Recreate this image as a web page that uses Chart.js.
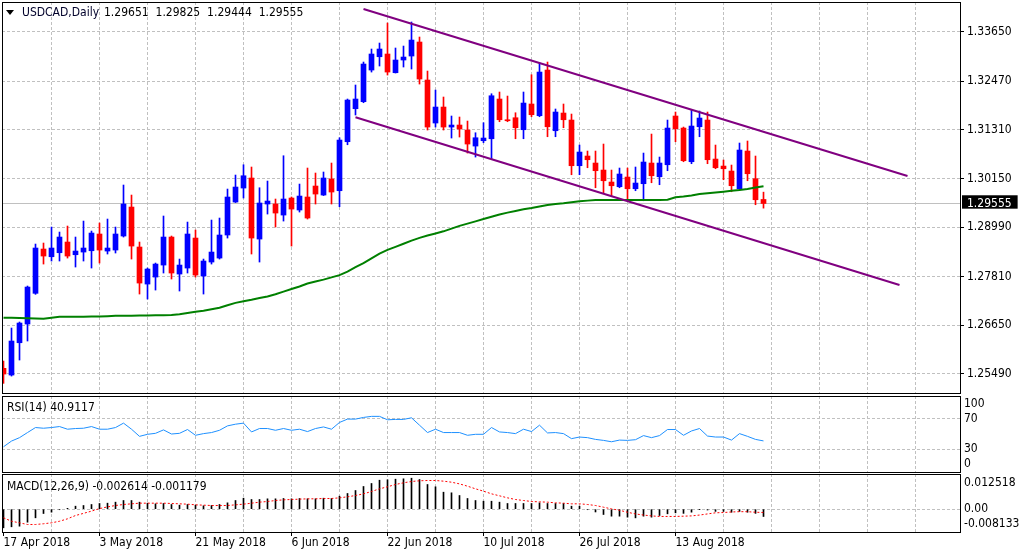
<!DOCTYPE html>
<html>
<head>
<meta charset="utf-8">
<script src="https://cdn.jsdelivr.net/npm/chart.js"></script>
<style>
html,body{margin:0;padding:0;background:#fff;}
#wrap{position:relative;width:1020px;height:556px;overflow:hidden;background:#fff;
  font-family:'DejaVu Sans Condensed','DejaVu Sans',sans-serif;font-size:12px;}
canvas{position:absolute;left:0;}
.lbl{position:absolute;white-space:pre;line-height:14px;color:#000;}
#tri{position:absolute;left:6px;top:10px;width:0;height:0;border-left:4px solid transparent;border-right:4px solid transparent;border-top:5px solid #000;}
</style>
</head>
<body>
<div id="wrap">
  <canvas id="cMain" width="1020" height="395" style="top:0px"></canvas>
  <canvas id="cRsi" width="1020" height="80" style="top:394px"></canvas>
  <canvas id="cMacd" width="1020" height="84" style="top:472px"></canvas>
  <div id="tri"></div>
  <div class="lbl" id="tSym" style="left:22px;top:5px;color:#00002a"></div>
  <div class="lbl" id="tOhlc" style="left:104px;top:5px;word-spacing:3.5px"></div>
  <div class="lbl" id="tRsi" style="left:7px;top:400px"></div>
  <div class="lbl" id="tMacd" style="left:7px;top:479px"></div>
</div>
<script>
// ---------------- DATA ----------------
const symbol = 'USDCAD,Daily';
const dateLabels = ['17 Apr 2018','3 May 2018','21 May 2018','6 Jun 2018','22 Jun 2018','10 Jul 2018','26 Jul 2018','13 Aug 2018'];

const opens = [
1.25625,1.25465,1.26235,1.26681,1.27413,1.28469,1.28285,1.28381,1.28636,1.28333,
1.28397,1.28428,1.28827,1.28421,1.28445,1.28779,1.29470,1.28517,1.27634,1.27801,
1.28087,1.28755,1.27873,1.28016,1.28731,1.27825,1.28159,1.28254,1.28803,1.29589,
1.29923,1.30162,1.28707,1.29542,1.29542,1.29279,1.29685,1.29399,1.29709,1.29971,
1.29756,1.30138,1.29859,1.31027,1.31814,1.31981,1.32736,1.33053,1.33118,1.32672,
1.32975,1.33070,1.33404,1.32498,1.31473,1.31854,1.31377,1.31425,1.31306,1.30924,
1.31051,1.31098,1.32045,1.31551,1.31599,1.31313,1.31926,1.31647,1.32736,1.31289,
1.31711,1.31544,1.30455,1.30686,1.30519,1.30352,1.30066,1.29954,1.30185,1.29906,
1.30026,1.30519,1.30192,1.30478,1.31640,1.31353,1.30550,1.31384,1.31544,1.30614,
1.30447,1.30328,1.29906,1.30805,1.30145,1.29651];
const highs = [
1.25799,1.26586,1.26729,1.27587,1.28588,1.28612,1.28993,1.28874,1.29017,1.28755,
1.29136,1.28898,1.29089,1.29184,1.28993,1.29995,1.29756,1.28636,1.28016,1.28135,
1.29256,1.28779,1.28230,1.29112,1.28922,1.28230,1.29160,1.29208,1.29899,1.30233,
1.30478,1.30424,1.29930,1.30090,1.29661,1.30693,1.29709,1.30018,1.30400,1.30281,
1.30305,1.30519,1.31122,1.32045,1.32379,1.32927,1.33237,1.33380,1.33857,1.33261,
1.33308,1.33881,1.33523,1.32712,1.32259,1.32093,1.31640,1.31616,1.31520,1.31241,
1.31480,1.32171,1.32212,1.32116,1.31718,1.32212,1.32624,1.32903,1.32927,1.31807,
1.31926,1.31687,1.30948,1.30805,1.30805,1.30972,1.30352,1.30400,1.30400,1.30424,
1.30757,1.31210,1.30662,1.31544,1.31735,1.31377,1.31783,1.31759,1.31735,1.30948,
1.30591,1.30471,1.30996,1.31044,1.30686,1.29825];
const lows = [
1.25267,1.25441,1.25823,1.26276,1.27389,1.28111,1.28183,1.28183,1.28254,1.28040,
1.28183,1.28016,1.28135,1.28350,1.28374,1.28755,1.28230,1.27396,1.27277,1.27491,
1.27897,1.27754,1.27468,1.27897,1.27801,1.27396,1.28111,1.28230,1.28731,1.29577,
1.29685,1.28350,1.28159,1.29303,1.28993,1.29136,1.28540,1.29351,1.29184,1.29542,
1.29744,1.29542,1.29477,1.30955,1.31664,1.31957,1.32688,1.32832,1.32617,1.32665,
1.32808,1.32760,1.32402,1.31306,1.31377,1.31306,1.31115,1.31139,1.30757,1.30662,
1.31003,1.30622,1.31504,1.31504,1.31098,1.31098,1.31623,1.31623,1.31146,1.31146,
1.31361,1.30240,1.30240,1.30407,1.29930,1.29811,1.29739,1.29930,1.29644,1.29859,
1.29620,1.30049,1.30002,1.30336,1.31027,1.30550,1.30503,1.31146,1.30503,1.30383,
1.30121,1.29835,1.29883,1.30097,1.29525,1.29444];
const closes = [
1.25489,1.26276,1.26705,1.27563,1.28493,1.28302,1.28493,1.28755,1.28302,1.28421,
1.28493,1.28850,1.28445,1.28493,1.28827,1.29542,1.28540,1.27658,1.27992,1.28111,
1.28755,1.27897,1.28087,1.28827,1.27849,1.28183,1.28397,1.28803,1.29709,1.29947,
1.30216,1.28731,1.29566,1.29613,1.29327,1.29661,1.29422,1.29732,1.29208,1.29780,
1.30162,1.29828,1.31067,1.32021,1.32045,1.32879,1.33118,1.33237,1.32688,1.32975,
1.33046,1.33451,1.32522,1.31377,1.31854,1.31377,1.31425,1.31330,1.30972,1.31122,
1.31115,1.32123,1.31551,1.31527,1.31361,1.31949,1.31671,1.32688,1.31384,1.31735,
1.31551,1.30455,1.30781,1.30598,1.30336,1.30097,1.29978,1.30257,1.29906,1.30042,
1.30543,1.30216,1.30519,1.31353,1.31337,1.30574,1.31401,1.31592,1.30598,1.30407,
1.30383,1.29978,1.30829,1.30264,1.29644,1.29555];

const sma = [
1.26831,1.26829,1.26824,1.26819,1.26814,1.26807,1.26829,1.26853,1.26855,1.26857,
1.26857,1.26860,1.26862,1.26867,1.26876,1.26879,1.26881,1.26884,1.26886,1.26888,
1.26891,1.26895,1.26915,1.26943,1.26972,1.27000,1.27034,1.27069,1.27129,1.27186,
1.27224,1.27260,1.27301,1.27336,1.27391,1.27453,1.27515,1.27577,1.27646,1.27694,
1.27739,1.27794,1.27847,1.27932,1.28035,1.28133,1.28247,1.28362,1.28450,1.28521,
1.28595,1.28669,1.28736,1.28791,1.28841,1.28891,1.28955,1.29022,1.29074,1.29129,
1.29184,1.29239,1.29294,1.29337,1.29377,1.29415,1.29446,1.29482,1.29520,1.29544,
1.29561,1.29585,1.29606,1.29623,1.29635,1.29637,1.29637,1.29637,1.29637,1.29637,
1.29637,1.29637,1.29637,1.29644,1.29701,1.29720,1.29744,1.29780,1.29799,1.29818,
1.29837,1.29856,1.29875,1.29899,1.29935,1.29964];

const channelUpper = [{bar:45, price:1.34190}, {bar:113, price:1.30209}];
const channelLower = [{bar:44, price:1.31609}, {bar:112, price:1.27611}];

const rsi = [
33.2,40.7,45.2,51.9,58.5,57.6,58.5,59.8,56.3,57.2,
57.6,59.8,56.3,56.3,58.5,64.3,56.3,46.9,49.6,50.9,
55.4,50.0,50.9,55.9,48.3,50.5,51.9,54.9,60.7,62.9,
64.3,52.7,57.2,57.2,54.9,57.2,54.9,56.3,53.2,57.2,
59.3,56.3,65.2,69.6,69.6,71.8,73.2,73.2,68.7,69.2,
69.2,71.3,61.6,51.9,56.3,51.9,51.9,51.9,48.3,49.6,
49.6,58.5,52.7,51.9,50.5,56.3,53.2,61.6,51.4,51.9,
50.5,43.9,46.0,45.2,42.9,41.6,39.8,42.0,41.6,42.5,
47.9,45.2,47.9,55.9,55.9,48.3,54.0,57.2,47.3,46.0,
46.0,42.0,50.5,46.9,42.9,40.9117];

const macdHist = [
-0.00664,-0.00628,-0.00606,-0.00464,-0.00308,-0.00155,-0.00107,-0.0002,0.0003,0.00106,
0.0013,0.00166,0.00202,0.00213,0.00249,0.00308,0.00308,0.00249,0.00213,0.0019,
0.00202,0.00166,0.00142,0.00166,0.00142,0.0012,0.0013,0.00166,0.00225,0.00308,
0.0039,0.00344,0.00344,0.00368,0.00368,0.0038,0.00368,0.0038,0.00368,0.00368,
0.0039,0.0038,0.00462,0.00558,0.00664,0.00807,0.00914,0.01031,0.01045,0.01067,
0.01081,0.01102,0.01056,0.00878,0.00796,0.00604,0.00582,0.00486,0.0038,0.00308,
0.00283,0.00283,0.00249,0.00202,0.00202,0.00202,0.00202,0.00225,0.00202,0.00202,
0.00202,0.00106,0.00106,-0.0002,-0.001,-0.0019,-0.0025,-0.0025,-0.00285,-0.0031,
-0.0025,-0.00285,-0.00226,-0.00166,-0.0013,-0.0015,-0.00107,-0.0001,-0.0003,-0.0008,
-0.0008,-0.0011,-0.0008,-0.0011,-0.0015,-0.002614];
const macdSignal = [
-0.00308,-0.0043,-0.00486,-0.00546,-0.00546,-0.0052,-0.00486,-0.0043,-0.00344,-0.00226,
-0.0015,-0.0007,0.0002,0.0008,0.0013,0.00166,0.0019,0.00213,0.00213,0.00213,
0.00213,0.00202,0.0019,0.00178,0.00154,0.00142,0.0013,0.0013,0.0013,0.00154,
0.00178,0.00213,0.00249,0.00273,0.00308,0.00332,0.00344,0.00356,0.00368,0.00368,
0.0038,0.0038,0.00403,0.0044,0.00486,0.00546,0.00629,0.00724,0.00796,0.00878,
0.00938,0.00985,0.0101,0.0102,0.0102,0.00997,0.0096,0.009,0.00818,0.00724,
0.0064,0.00546,0.00475,0.00403,0.00344,0.00308,0.00273,0.0026,0.00249,0.00225,
0.00213,0.0019,0.0019,0.00166,0.0013,0.0007,0.0001,-0.0004,-0.0011,-0.0017,
-0.0021,-0.0024,-0.0026,-0.0026,-0.0026,-0.0025,-0.0024,-0.0021,-0.0017,-0.0013,
-0.0012,-0.001,-0.0009,-0.0009,-0.0011,-0.001179];

const priceTicks = [1.25490,1.26650,1.27810,1.28990,1.30150,1.31310,1.32470,1.33650];
const rsiTicks = [0,30,70,100];
const macdTicks = [-0.008133,0,0.012518];

// ---------------- CONFIG ----------------
const PRICE_MIN = 1.25037, PRICE_MAX = 1.34358;
const X_MIN = -0.1875, X_MAX = 119.5625;
const Y_AXIS_W = 60;
const GRID_EVERY = 6, LABEL_EVERY = 12;
const GRID = '#c0c0c0', DASH = [3, 2], CLEAR = 'rgba(0,0,0,0)';
const UP = '#0000ff', DOWN = '#ff0000';
const FONT = "'DejaVu Sans Condensed','DejaVu Sans',sans-serif";

const lastBar = closes.length - 1;
const lastClose = closes[lastBar];

Chart.defaults.font.family = FONT;
Chart.defaults.font.size = 12;
Chart.defaults.color = '#000';
Chart.defaults.animation = false;
Chart.defaults.events = [];
Chart.defaults.plugins.legend.display = false;
Chart.defaults.plugins.tooltip.enabled = false;

const xGridValues = [];
for (let v = 0; v <= X_MAX; v += GRID_EVERY) xGridValues.push(v);
const isLabelBar = v => v % LABEL_EVERY === 0 && v <= lastBar;

const framePlugin = {
  id: 'frame',
  afterDraw(chart) {
    const {ctx, chartArea: a} = chart;
    ctx.save();
    ctx.strokeStyle = '#000';
    ctx.lineWidth = 1;
    ctx.strokeRect(a.left + 0.5, a.top + 0.5, a.right - a.left, a.bottom - a.top);
    ctx.restore();
  }
};

function xAxis(showLabels) {
  return {
    type: 'linear', min: X_MIN, max: X_MAX, offset: false,
    afterBuildTicks: s => { s.ticks = xGridValues.map(v => ({value: v})); },
    afterFit: s => { s.height = showLabels ? 24 : 0; s.paddingLeft = 0; s.paddingRight = 0; },
    ticks: {
      display: showLabels, autoSkip: false, maxRotation: 0, minRotation: 0, align: 'start', padding: 0,
      callback: v => isLabelBar(v) ? dateLabels[v / LABEL_EVERY] : ''
    },
    grid: {
      offset: false,
      color: c => (c.tick && c.tick.value === 0) ? CLEAR : GRID,
      drawTicks: showLabels, tickLength: 4,
      tickColor: c => (c.tick && isLabelBar(c.tick.value)) ? '#000' : CLEAR
    },
    border: {display: false, dash: DASH}
  };
}

function edgeLabel(text, i, n) {
  if (i === n - 1) return ['', text];
  if (i === 0) return [text, ''];
  return text;
}

const isLast = c => !!(c.tick && c.tick.value === lastClose);
const candleColors = opens.map((o, i) => closes[i] >= o ? UP : DOWN);

// ---------------- MAIN ----------------
new Chart(document.getElementById('cMain'), {
  type: 'bar',
  data: {
    datasets: [
      {type: 'line', label: 'Channel top', data: channelUpper.map(p => ({x: p.bar, y: p.price})),
        borderColor: '#800080', borderWidth: 2, pointRadius: 0, order: 0},
      {type: 'line', label: 'Channel bottom', data: channelLower.map(p => ({x: p.bar, y: p.price})),
        borderColor: '#800080', borderWidth: 2, pointRadius: 0, order: 0},
      {type: 'line', label: 'SMA', data: sma.map((v, i) => ({x: i, y: v})),
        borderColor: '#008000', borderWidth: 2, pointRadius: 0, order: 1},
      {type: 'bar', label: 'Body', data: opens.map((o, i) => ({x: i, y: [o, closes[i]]})),
        backgroundColor: candleColors, borderWidth: 0, barThickness: 5, grouped: false, minBarLength: 1, order: 2},
      {type: 'bar', label: 'Wick', data: lows.map((l, i) => ({x: i, y: [l, highs[i]]})),
        backgroundColor: candleColors, borderWidth: 0, barThickness: 1, grouped: false, order: 3}
    ]
  },
  options: {
    responsive: false, maintainAspectRatio: false,
    layout: {padding: {left: 2, top: 2, right: 0, bottom: 2}},
    scales: {
      x: xAxis(false),
      y: {
        position: 'right', min: PRICE_MIN, max: PRICE_MAX, beginAtZero: false,
        afterBuildTicks: s => { s.ticks = priceTicks.concat([lastClose]).map(v => ({value: v})); },
        afterFit: s => { s.width = Y_AXIS_W; s.paddingTop = 0; s.paddingBottom = 0; },
        ticks: {
          autoSkip: false, padding: 3,
          callback: v => v.toFixed(5),
          color: c => isLast(c) ? '#fff' : '#000',
          showLabelBackdrop: c => isLast(c),
          backdropColor: '#000',
          backdropPadding: {top: 1, bottom: -2, left: 5, right: 6}
        },
        grid: {color: GRID, tickLength: 4, tickColor: c => isLast(c) ? CLEAR : '#000'},
        border: {display: false, dash: c => isLast(c) ? [] : DASH}
      }
    }
  },
  plugins: [framePlugin]
});

// ---------------- RSI ----------------
new Chart(document.getElementById('cRsi'), {
  type: 'line',
  data: {datasets: [{label: 'RSI(14)', data: rsi.map((v, i) => ({x: i, y: v})),
    borderColor: '#1e90ff', borderWidth: 1, pointRadius: 0}]},
  options: {
    responsive: false, maintainAspectRatio: false,
    layout: {padding: {left: 2, top: 2, right: 0, bottom: 2}},
    scales: {
      x: xAxis(false),
      y: {
        position: 'right', min: rsiTicks[0], max: rsiTicks[rsiTicks.length - 1], beginAtZero: false,
        afterBuildTicks: s => { s.ticks = rsiTicks.map(v => ({value: v})); },
        afterFit: s => { s.width = Y_AXIS_W; s.paddingTop = 0; s.paddingBottom = 0; },
        ticks: {autoSkip: false, padding: 4, font: {lineHeight: 1.3},
          callback: (v, i, t) => edgeLabel(String(v), i, t.length)},
        grid: {drawTicks: false,
          color: c => (c.tick && (c.index === 0 || c.index === rsiTicks.length - 1)) ? CLEAR : GRID},
        border: {display: false, dash: DASH}
      }
    }
  },
  plugins: [framePlugin]
});

// ---------------- MACD ----------------
new Chart(document.getElementById('cMacd'), {
  type: 'bar',
  data: {datasets: [
    {type: 'line', label: 'Signal', data: macdSignal.map((v, i) => ({x: i, y: v})),
      borderColor: '#ff0000', borderWidth: 1, borderDash: [2, 2], pointRadius: 0, order: 0},
    {type: 'bar', label: 'MACD', data: macdHist.map((v, i) => ({x: i, y: v})),
      backgroundColor: '#000', borderWidth: 0, barThickness: 1, grouped: false, order: 1}
  ]},
  options: {
    responsive: false, maintainAspectRatio: false,
    layout: {padding: {left: 2, top: 2, right: 0, bottom: 0}},
    scales: {
      x: xAxis(true),
      y: {
        position: 'right', min: macdTicks[0], max: macdTicks[macdTicks.length - 1], beginAtZero: false,
        afterBuildTicks: s => { s.ticks = macdTicks.map(v => ({value: v})); },
        afterFit: s => { s.width = Y_AXIS_W; s.paddingTop = 0; s.paddingBottom = 0; },
        ticks: {autoSkip: false, padding: 4, font: {lineHeight: 1.4},
          callback: (v, i, t) => edgeLabel(v === 0 ? '0.00' : v.toFixed(6), i, t.length)},
        grid: {drawTicks: false, color: c => (c.tick && c.tick.value === 0) ? GRID : CLEAR},
        border: {display: false, dash: DASH}
      }
    }
  },
  plugins: [framePlugin]
});

// ---------------- TEXT ----------------
document.getElementById('tSym').textContent = symbol;
document.getElementById('tOhlc').textContent =
  [opens[lastBar], highs[lastBar], lows[lastBar], closes[lastBar]].map(v => v.toFixed(5)).join(' ');
document.getElementById('tRsi').textContent = 'RSI(14) ' + rsi[lastBar].toFixed(4);
document.getElementById('tMacd').textContent =
  'MACD(12,26,9) ' + macdHist[lastBar].toFixed(6) + ' ' + macdSignal[lastBar].toFixed(6);
</script>
</body>
</html>
